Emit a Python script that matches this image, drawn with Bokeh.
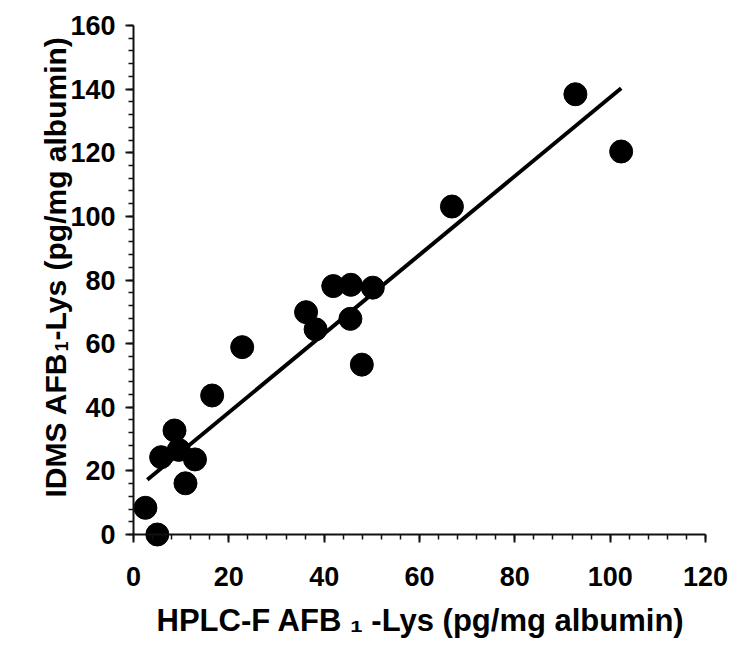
from bokeh.plotting import figure
from bokeh.models import Range1d, FixedTicker, Label, ColumnDataSource
from bokeh.embed import file_html
from bokeh.resources import INLINE
import numpy as np

# ---- data ----
hplc_x = [2.5, 5.0, 5.8, 8.6, 9.5, 12.9, 10.9, 16.5, 22.8, 36.2, 38.2,
          41.9, 45.6, 50.2, 45.5, 47.9, 66.8, 92.7, 102.3]
idms_y = [8.4, 0.0, 24.3, 32.7, 26.6, 23.6, 16.1, 43.7, 58.9, 69.9, 64.5,
          78.1, 78.5, 77.6, 67.8, 53.4, 103.1, 138.4, 120.4]
fit_x = [2.9, 102.3]
fit_y = [17.2, 140.3]
x_ticks = [0, 20, 40, 60, 80, 100, 120]
y_ticks = [0, 20, 40, 60, 80, 100, 120, 140, 160]
x_title = "HPLC-F AFB \u2081 -Lys (pg/mg albumin)"
y_title = ["IDMS AFB", "1", "-Lys", "(pg/mg albumin)"]

FONT = "Liberation Sans"

# ---- geometry: the frame covers the whole canvas ----
W, H = 734, 649
OX, SX = 133.0, 4.767   # pixel of x=0, pixels per x unit
OY, SY = 534.0, 3.181   # pixel of y=0, pixels per y unit

def dx(px):
    return (px - OX) / SX

def dy(py):
    return (OY - py) / SY

p = figure(width=W, height=H, frame_width=W, frame_height=H,
           min_border=0, min_border_left=0, min_border_right=0,
           min_border_top=0, min_border_bottom=0,
           x_range=Range1d(dx(0), dx(W)), y_range=Range1d(dy(H), dy(0)),
           output_backend="svg", toolbar_location=None)
p.outline_line_color = None
p.grid.visible = False
p.background_fill_color = "white"
p.border_fill_color = "white"

for ax, ticks in ((p.xaxis[0], x_ticks), (p.yaxis[0], y_ticks)):
    minor = list(np.arange(ticks[0], ticks[-1] + 0.1, 4))
    ax.ticker = FixedTicker(ticks=ticks, minor_ticks=minor)
    ax.bounds = (ticks[0], ticks[-1])
    ax.fixed_location = 0
    ax.axis_line_width = 2
    ax.axis_line_color = "#111111"
    ax.major_tick_in = 0
    ax.major_tick_out = 8
    ax.minor_tick_in = 0
    ax.minor_tick_out = 5
    ax.major_tick_line_width = 2
    ax.minor_tick_line_width = 1.5
    ax.major_tick_line_color = "#111111"
    ax.minor_tick_line_color = "#111111"
    ax.major_label_text_font = FONT
    ax.major_label_text_font_style = "bold"
    ax.major_label_text_font_size = "27px"
    ax.major_label_text_color = "black"

p.xaxis[0].major_label_standoff = 24
p.yaxis[0].major_label_standoff = 10

src = ColumnDataSource(dict(x=hplc_x, y=idms_y))
p.line(fit_x, fit_y, line_width=4, line_color="black")
p.scatter("x", "y", source=src, size=23, fill_color="black", line_color="black")

# ---- axis titles ----
def lab(text, x, y, size, angle=0):
    p.add_layout(Label(x=x, y=y, text=text, angle=angle, angle_units="deg",
                       text_font=FONT, text_font_style="bold",
                       text_font_size=size, text_color="black",
                       text_align="left", text_baseline="alphabetic"))

lab(x_title, dx(156), dy(620), "31px")

lab(y_title[0], dx(55), dy(497), "30px", 90)
lab(y_title[1], dx(61), dy(351), "18px", 90)
lab(y_title[2], dx(55), dy(340), "30px", 90)
lab(y_title[3], dx(55), dy(270), "30px", 90)

open("out.html", "w").write(file_html(p, INLINE))
